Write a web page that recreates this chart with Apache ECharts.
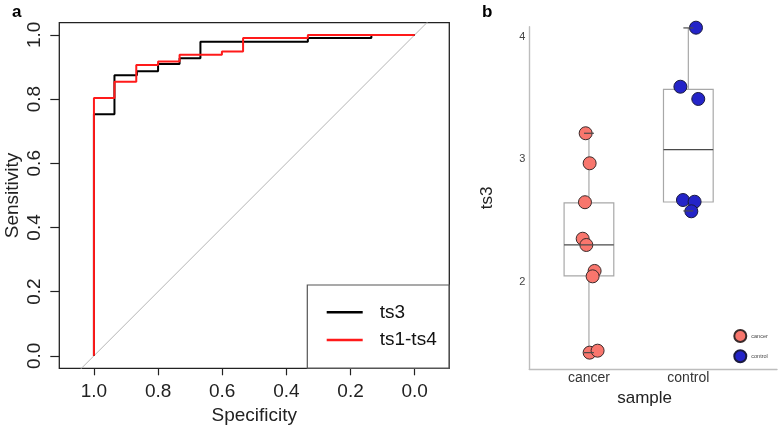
<!DOCTYPE html>
<html>
<head>
<meta charset="utf-8">
<script src="https://cdn.jsdelivr.net/npm/echarts@6/dist/echarts.min.js"></script>
<style>
html,body{margin:0;padding:0;background:#fff;}
#chart{width:778px;height:428px;}
</style>
</head>
<body>
<div id="chart"></div>
<script>
// ---- Panel a: ROC curves (specificity, sensitivity step corners) ----
const ts3Spec   = [1.0, 0.936, 0.866, 0.800, 0.733, 0.668, 0.333, 0.135];
const ts3Sens   = [0.753, 0.874, 0.887, 0.909, 0.927, 0.979, 0.990, 1.000];
const ts14Spec  = [1.0, 0.936, 0.868, 0.800, 0.733, 0.601, 0.535, 0.333];
const ts14Sens  = [0.803, 0.854, 0.906, 0.917, 0.938, 0.948, 0.990, 1.000];
const rocTicks  = [0, 0.2, 0.4, 0.6, 0.8, 1.0];
const rocNames  = ['ts3', 'ts1-ts4'];

// ---- Panel b: box plot + jittered points ----
const groups     = ['cancer', 'control'];
const groupTicks = [1, 2];
const bTicks     = [2, 3, 4];
// [min, Q1, median, Q3, max]
const cancerBox  = [1.419, 2.045, 2.298, 2.641, 3.21];
const controlBox = [2.576, 2.649, 3.076, 3.569, 4.07];
const cancerX = [0.967, 1.007, 0.960, 0.937, 0.974, 1.057, 1.037, 1.007, 1.087];
const cancerY = [3.210, 2.965, 2.647, 2.349, 2.298, 2.086, 2.042, 1.419, 1.435];
const controlX = [2.077, 1.920, 2.100, 1.946, 2.063, 2.030];
const controlY = [4.072, 3.590, 3.490, 2.665, 2.651, 2.573];

function stepPoints(specs, sens) {
  const pts = [[specs[0], 0]];
  let prev = 0;
  for (let i = 0; i < specs.length; i++) {
    pts.push([specs[i], prev]);
    pts.push([specs[i], sens[i]]);
    prev = sens[i];
  }
  pts.push([0, prev]);
  return pts;
}
function zip(xs, ys) { return xs.map((x, i) => [x, ys[i]]); }

const FONT = 'Liberation Sans, Arial, sans-serif';
const chart = echarts.init(document.getElementById('chart'), null, {renderer: 'canvas'});

const boxData = [[groupTicks[0]].concat(cancerBox), [groupTicks[1]].concat(controlBox)];

function boxBody(params, api) {
  const x = api.value(0);
  const pMin = api.coord([x, api.value(1)]);
  const pQ1 = api.coord([x, api.value(2)]);
  const pQ3 = api.coord([x, api.value(4)]);
  const pMax = api.coord([x, api.value(5)]);
  const hw = api.size([0.5, 0])[0] / 2;
  const st = {stroke: '#a8a8a8', lineWidth: 1.2, fill: null};
  return {type: 'group', children: [
    {type: 'line', shape: {x1: pMin[0], y1: pMin[1], x2: pQ1[0], y2: pQ1[1]}, style: st},
    {type: 'line', shape: {x1: pQ3[0], y1: pQ3[1], x2: pMax[0], y2: pMax[1]}, style: st},
    {type: 'rect', shape: {x: pQ3[0] - hw, y: pQ3[1], width: 2 * hw, height: pQ1[1] - pQ3[1]},
     style: {stroke: '#a8a8a8', lineWidth: 1.2, fill: 'rgba(255,255,255,0)'}}
  ]};
}
function boxTop(params, api) {
  const x = api.value(0);
  const pMin = api.coord([x, api.value(1)]);
  const pMed = api.coord([x, api.value(3)]);
  const pMax = api.coord([x, api.value(5)]);
  const hw = api.size([0.5, 0])[0] / 2;
  const cw = api.size([0.1, 0])[0] / 2;
  const dark = {stroke: '#4a4a4a', lineWidth: 1.2};
  return {type: 'group', children: [
    {type: 'line', shape: {x1: pMed[0] - hw, y1: pMed[1], x2: pMed[0] + hw, y2: pMed[1]}, style: dark},
    {type: 'line', shape: {x1: pMin[0] - cw, y1: pMin[1], x2: pMin[0] + cw, y2: pMin[1]}, style: dark},
    {type: 'line', shape: {x1: pMax[0] - cw, y1: pMax[1], x2: pMax[0] + cw, y2: pMax[1]}, style: dark}
  ]};
}

const option = {
  animation: false,
  backgroundColor: '#ffffff',
  textStyle: {fontFamily: FONT},
  title: [
    {text: 'a', left: 7, top: -1, textStyle: {fontSize: 17, fontWeight: 'bold', color: '#000', fontFamily: FONT}},
    {text: 'b', left: 477, top: -1, textStyle: {fontSize: 17, fontWeight: 'bold', color: '#000', fontFamily: FONT}}
  ],
  grid: [
    {left: 59.3, top: 22.7, width: 390, height: 345.6, show: true, borderColor: '#222', borderWidth: 1.3,
     backgroundColor: 'rgba(0,0,0,0)', containLabel: false, outerBoundsMode: 'none'},
    {left: 529.3, top: 26.7, width: 247.7, height: 342.6, containLabel: false, outerBoundsMode: 'none'}
  ],
  legend: [
    {
      data: [{name: rocNames[0], icon: 'rect'}, {name: rocNames[1], icon: 'rect'}],
      orient: 'vertical', left: 326.7, top: 302.3, itemWidth: 36, itemHeight: 2.5, itemGap: 7.7,
      padding: 0,
      textStyle: {fontSize: 19, lineHeight: 20, color: '#111', fontFamily: FONT, padding: [0, 0, 0, 12]}
    },
    {
      data: [{name: groups[0], icon: 'circle'}, {name: groups[1], icon: 'circle'}],
      orient: 'vertical', left: 733.3, top: 329, itemWidth: 12, itemHeight: 12, itemGap: 6.3,
      padding: 0,
      textStyle: {fontSize: 5.5, color: '#444', fontFamily: FONT}
    }
  ],
  graphic: [
    {type: 'rect', shape: {x: 307.3, y: 285, width: 142, height: 83.3}, style: {fill: null, stroke: '#555', lineWidth: 1.2}, z: 100}
  ],
  xAxis: [
    {
      gridIndex: 0, type: 'value', inverse: true, min: -0.108, max: 1.108,
      splitLine: {show: false},
      axisLine: {show: false, onZero: false},
      axisTick: {show: true, length: 7, customValues: rocTicks, lineStyle: {color: '#222', width: 1.2}},
      axisLabel: {customValues: rocTicks, formatter: v => v.toFixed(1), fontSize: 19, color: '#222', margin: 14, fontFamily: FONT},
      name: 'Specificity', nameLocation: 'middle', nameGap: 34,
      nameTextStyle: {fontSize: 19, color: '#222', fontFamily: FONT}
    },
    {
      gridIndex: 1, type: 'value', min: 0.4, max: 2.892,
      splitLine: {show: false},
      axisLine: {show: true, onZero: false, lineStyle: {color: '#bdbdbd', width: 1.4}},
      axisTick: {show: false},
      axisLabel: {customValues: groupTicks, formatter: v => groups[Math.round(v) - 1], fontSize: 14, color: '#333', margin: 2, fontFamily: FONT},
      name: 'sample', nameLocation: 'middle', nameGap: 19,
      nameTextStyle: {fontSize: 17, color: '#222', fontFamily: FONT, padding: [0, 17, 0, 0]}
    }
  ],
  yAxis: [
    {
      gridIndex: 0, type: 'value', min: -0.039, max: 1.038,
      splitLine: {show: false},
      axisLine: {show: false, onZero: false},
      axisTick: {show: true, length: 9, customValues: rocTicks, lineStyle: {color: '#222', width: 1.2}},
      axisLabel: {customValues: rocTicks, formatter: v => v.toFixed(1), fontSize: 19, color: '#222', margin: 15, rotate: 90, fontFamily: FONT},
      name: 'Sensitivity', nameLocation: 'middle', nameGap: 37, nameMoveOverlap: false,
      nameTextStyle: {fontSize: 19, color: '#222', fontFamily: FONT}
    },
    {
      gridIndex: 1, type: 'value', min: 1.283, max: 4.08,
      splitLine: {show: false},
      axisLine: {show: true, onZero: false, lineStyle: {color: '#bdbdbd', width: 1.4}},
      axisTick: {show: false},
      axisLabel: {customValues: bTicks, fontSize: 11, color: '#444', margin: 4, fontFamily: FONT},
      name: 'ts3', nameLocation: 'middle', nameGap: 33, nameMoveOverlap: false,
      nameTextStyle: {fontSize: 17, color: '#222', fontFamily: FONT}
    }
  ],
  series: [
    {
      type: 'line', name: 'diag', xAxisIndex: 0, yAxisIndex: 0, data: [[1.2, -0.2], [-0.2, 1.2]],
      symbol: 'none', clip: true, silent: true, lineStyle: {color: '#b5b5b5', width: 1}, z: 1
    },
    {
      type: 'line', name: rocNames[0], xAxisIndex: 0, yAxisIndex: 0, data: stepPoints(ts3Spec, ts3Sens),
      symbol: 'none', color: '#000000', lineStyle: {color: '#000000', width: 2}, z: 2
    },
    {
      type: 'line', name: rocNames[1], xAxisIndex: 0, yAxisIndex: 0, data: stepPoints(ts14Spec, ts14Sens),
      symbol: 'none', color: '#ff1a1a', lineStyle: {color: '#ff1a1a', width: 2}, z: 3
    },
    {
      type: 'custom', name: 'box', xAxisIndex: 1, yAxisIndex: 1, data: boxData,
      encode: {x: 0, y: [1, 2, 3, 4, 5]}, renderItem: boxBody, z: 1, silent: true
    },
    {
      type: 'scatter', name: groups[0], xAxisIndex: 1, yAxisIndex: 1, data: zip(cancerX, cancerY),
      symbolSize: 13, itemStyle: {color: '#F8766D', borderColor: '#3a2a2a', borderWidth: 1, opacity: 1}, z: 2
    },
    {
      type: 'scatter', name: groups[1], xAxisIndex: 1, yAxisIndex: 1, data: zip(controlX, controlY),
      symbolSize: 13, itemStyle: {color: '#2424c8', borderColor: '#1a1a40', borderWidth: 1, opacity: 1}, z: 2
    },
    {
      type: 'custom', name: 'boxTop', xAxisIndex: 1, yAxisIndex: 1, data: boxData,
      encode: {x: 0, y: [1, 2, 3, 4, 5]}, renderItem: boxTop, z: 3, silent: true
    }
  ]
};
chart.setOption(option);
</script>
</body>
</html>
